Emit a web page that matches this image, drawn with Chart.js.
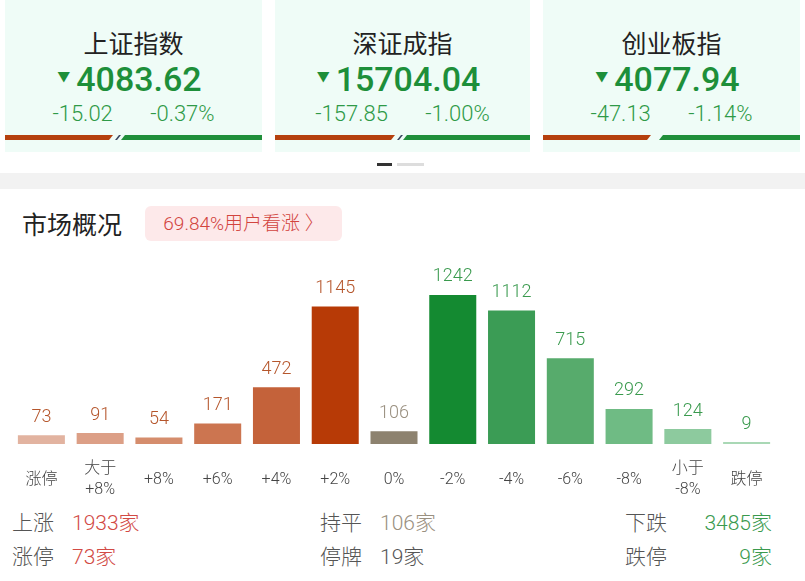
<!DOCTYPE html>
<html>
<head>
<meta charset="utf-8">
<script src="https://cdn.jsdelivr.net/npm/chart.js@4"></script>
<style>
  body { margin: 0; width: 805px; height: 581px; background: #fff; font-family: Roboto, "Noto Sans CJK SC", sans-serif; position: relative; overflow: hidden; }
  .card { position: absolute; top: 0; height: 152px; background: #effcf7; }
  .card .name { position: absolute; left: 0; right: 0; top: 24px; text-align: center; font-size: 25px; color: #222; line-height: 36px; font-family: "Noto Sans CJK SC", sans-serif; }
  .card .val { position: absolute; left: 0; right: 8px; top: 56px; text-align: center; font-size: 34px; color: #1d8f3a; line-height: 42px; font-weight: 500; }
  .card .val span { font-size: 13px; vertical-align: 10px; margin-right: 6px; }
  .card .chg { position: absolute; left: 0; right: 0; top: 100px; text-align: center; font-size: 22px; color: #2e9a47; line-height: 28px; word-spacing: 32px; font-weight: 300; }
  .bar { position: absolute; top: 135px; height: 5px; }
  .dot { position: absolute; top: 163px; height: 3px; }
  #band { position: absolute; left: 0; top: 173px; width: 805px; height: 16px; background: #f2f2f2; }
  #title { position: absolute; left: 22px; top: 205px; font-size: 25px; line-height: 36px; color: #222; font-family: "Noto Sans CJK SC", sans-serif; }
  #badge { position: absolute; left: 145px; top: 206px; width: 197px; height: 35px; background: #fde9ea; border-radius: 6px; color: #d2443e; font-size: 19px; line-height: 35px; text-align: center; font-weight: 300; }
  #wrap { position: absolute; left: 0; top: 255px; width: 805px; height: 245px; }
  .ft { position: absolute; font-size: 21px; line-height: 28px; font-weight: 300; }
</style>
</head>
<body>
<div id="cards"></div>
<div class="dot" style="left:377px;width:15px;background:#333"></div>
<div class="dot" style="left:397px;width:27px;background:#ddd"></div>
<div id="band"></div>
<div id="title">市场概况</div>
<div id="badge">69.84%用户看涨 〉</div>
<div id="wrap"><canvas id="chart"></canvas></div>
<div id="footer"></div>
<script>
const indexNames = ["上证指数", "深证成指", "创业板指"];
const indexValues = ["4083.62", "15704.04", "4077.94"];
const indexChanges = ["-15.02", "-157.85", "-47.13"];
const indexPcts = ["-0.37%", "-1.00%", "-1.14%"];
const upShare = [0.42, 0.47, 0.42];

const categories = [["涨停"], ["大于", "+8%"], ["+8%"], ["+6%"], ["+4%"], ["+2%"], ["0%"], ["-2%"], ["-4%"], ["-6%"], ["-8%"], ["小于", "-8%"], ["跌停"]];
const counts = [73, 91, 54, 171, 472, 1145, 106, 1242, 1112, 715, 292, 124, 9];
const barColors = ["#e2b3a0", "#dc9f86", "#d58d6d", "#cc7550", "#c4623a", "#b73a06", "#8d826f", "#148a31", "#3b9c55", "#57ab6c", "#6fbb84", "#8dca9e", "#a9d8b5"];
const labelColors = ["#b5562c", "#b5562c", "#b5562c", "#b5562c", "#b5562c", "#b5562c", "#9a9080", "#3a9a4e", "#3a9a4e", "#3a9a4e", "#3a9a4e", "#3a9a4e", "#3a9a4e"];

const footLabels = [["上涨", "涨停"], ["持平", "停牌"], ["下跌", "跌停"]];
const footValues = [["1933家", "73家"], ["106家", "19家"], ["3485家", "9家"]];
const footColors = ["#d24a45", "#9a9080", "#3a9a4e"];

// top cards
const cardLeft = [5, 275, 543];
const cardWidth = [257, 255, 257];
let html = "";
indexNames.forEach((n, i) => {
  const x = cardLeft[i], w = cardWidth[i];
  html += `<div class="card" style="left:${x}px;width:${w}px">
    <div class="name">${n}</div>
    <div class="val"><span>▼</span>${indexValues[i]}</div>
    <div class="chg">${indexChanges[i]} ${indexPcts[i]}</div></div>`;
  const redW = Math.round(w * upShare[i]);
  html += `<div class="bar" style="left:${x}px;width:${redW}px;background:#b5400e;clip-path:polygon(0 0,100% 0,calc(100% - 4px) 100%,0 100%)"></div>`;
  if (i < 2) html += `<div class="bar" style="left:${x + redW + 2}px;width:6px;background:#3a4560;clip-path:polygon(4px 0,100% 0,2px 100%,0 100%)"></div>`;
  html += `<div class="bar" style="left:${x + redW + 8}px;width:${w - redW - 8}px;background:#1f8f3a;clip-path:polygon(4px 0,100% 0,100% 100%,0 100%)"></div>`;
});
document.getElementById("cards").innerHTML = html;

// footer
const footX = [[12, 72], [320, 380], [625, 772]];
const footY = [509, 543];
let fh = "";
footLabels.forEach((col, c) => {
  col.forEach((lab, r) => {
    fh += `<div class="ft" style="left:${footX[c][0]}px;top:${footY[r]}px;color:#555">${lab}</div>`;
    const pos = c === 2 ? `right:${805 - footX[c][1]}px` : `left:${footX[c][1]}px`;
    fh += `<div class="ft" style="${pos};top:${footY[r]}px;color:${c === 1 && r === 1 ? "#555" : footColors[c]}">${footValues[c][r]}</div>`;
  });
});
document.getElementById("footer").innerHTML = fh;

const labelsPlugin = {
  id: "labels",
  afterDatasetsDraw(chart) {
    const ctx = chart.ctx;
    const meta = chart.getDatasetMeta(0);
    const xs = chart.scales.x;
    ctx.save();
    ctx.textAlign = "center";
    ctx.textBaseline = "middle";
    meta.data.forEach((bar, i) => {
      ctx.font = "300 18px Roboto, 'Noto Sans CJK SC', sans-serif";
      ctx.fillStyle = labelColors[i];
      ctx.fillText(String(counts[i]), bar.x, bar.y - 18);
      ctx.font = "300 16px Roboto, 'Noto Sans CJK SC', sans-serif";
      ctx.fillStyle = "#444";
      const lines = categories[i];
      const cx = xs.getPixelForValue(i);
      if (lines.length === 1) {
        ctx.fillText(lines[0], cx, chart.chartArea.bottom + 36);
      } else {
        ctx.fillText(lines[0], cx, chart.chartArea.bottom + 25);
        ctx.fillText(lines[1], cx, chart.chartArea.bottom + 46);
      }
    });
    ctx.restore();
  }
};

new Chart(document.getElementById("chart"), {
  type: "bar",
  data: {
    labels: categories.map(c => c.join("")),
    datasets: [{
      data: counts,
      backgroundColor: barColors,
      borderWidth: 0,
      minBarLength: 2,
      barPercentage: 0.8,
      categoryPercentage: 1,
    }],
  },
  options: {
    responsive: true,
    maintainAspectRatio: false,
    animation: false,
    layout: { padding: { left: 12, right: 29, top: 0, bottom: 56 } },
    plugins: { legend: { display: false }, tooltip: { enabled: false } },
    scales: {
      x: { display: false },
      y: { display: false, min: 0, max: 1575 },
    },
  },
  plugins: [labelsPlugin],
});
</script>
</body>
</html>
